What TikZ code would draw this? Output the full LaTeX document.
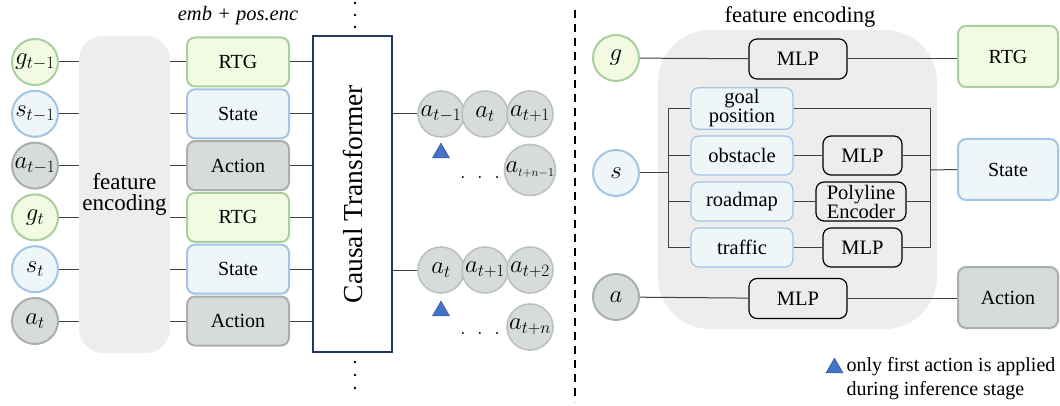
\documentclass[tikz,border=0pt]{standalone}
\usepackage{fontspec}
\setmainfont{Liberation Serif}
\usetikzlibrary{shapes.geometric}

\definecolor{rtgfill}{HTML}{F3FAE2}
\definecolor{rtgline}{HTML}{A8CF9C}
\definecolor{statefill}{HTML}{EEF6F8}
\definecolor{stateline}{HTML}{A2C4E6}
\definecolor{actfill}{HTML}{D6DDD9}
\definecolor{actline}{HTML}{ADADAD}
\definecolor{encfill}{HTML}{EDEDED}
\definecolor{trline}{HTML}{1F3864}
\definecolor{trifill}{HTML}{4472C4}

\tikzset{
  link/.style={draw=black!75, line width=1pt},
  tok/.style={circle, line width=2pt, minimum size=46pt, inner sep=0pt, font=\fontsize{24}{26}\selectfont},
  gtok/.style={tok, draw=rtgline, fill=rtgfill},
  stok/.style={tok, draw=stateline, fill=statefill},
  atok/.style={tok, draw=actline, fill=actfill},
  outtok/.style={circle, draw=black!25, fill=actfill, line width=1.6pt, minimum size=46pt, inner sep=0pt, font=\fontsize{23}{26}\selectfont},
  emb/.style={rounded corners=8pt, line width=2pt, minimum width=102pt, minimum height=49pt, font=\fontsize{20}{22}\selectfont},
  rtgbox/.style={emb, draw=rtgline, fill=rtgfill},
  statebox/.style={emb, draw=stateline, fill=statefill},
  actbox/.style={emb, draw=actline, fill=actfill},
  mlpbox/.style={draw=black, fill=encfill, rounded corners=8pt, line width=1.2pt, minimum width=98pt, minimum height=40pt, inner sep=2pt, align=center, font=\fontsize{20.5}{19}\selectfont},
  subbox/.style={draw=stateline, fill=statefill, rounded corners=8pt, line width=1.2pt, minimum width=102pt, minimum height=39pt, inner sep=2pt, align=center, font=\fontsize{20.5}{19}\selectfont},
  applied/.style={regular polygon, regular polygon sides=3, fill=trifill, draw=trifill!80!black, line width=0.6pt, minimum size=19.6pt, inner sep=0pt},
}

\begin{document}
\begin{tikzpicture}[x=1pt, y=-1pt]
  \useasboundingbox (0,0) rectangle (1060,406);

  % left: tokens of two time steps
  \node[gtok] (g1) at (35,62) {$g_{t-1}$};
  \node[stok] (s1) at (35,113.8) {$s_{t-1}$};
  \node[atok] (a1) at (35,165.6) {$a_{t-1}$};
  \node[gtok] (g2) at (35,217.4) {$g_t$};
  \node[stok] (s2) at (35,269.2) {$s_t$};
  \node[atok] (a2) at (35,321) {$a_t$};

  \node[fill=encfill, rounded corners=24pt, minimum width=79pt, minimum height=317pt, align=center,
        font=\fontsize{23}{21}\selectfont] (fenc) at (124.5,194.5) {feature\\encoding};

  \node[font=\fontsize{20.5}{22}\selectfont\itshape] (embtitle) at (238,16) {emb + pos.enc};
  \node[rtgbox] (r1) at (238,62) {RTG};
  \node[statebox] (e1) at (238,113.8) {State};
  \node[actbox] (c1) at (238,165.6) {Action};
  \node[rtgbox] (r2) at (238,217.4) {RTG};
  \node[statebox] (e2) at (238,269.2) {State};
  \node[actbox] (c2) at (238,321) {Action};

  \node[draw=trline, line width=2pt, minimum width=79pt, minimum height=316pt] (ct) at (352.5,194) {};
  \node[rotate=90, font=\fontsize{27.5}{30}\selectfont] (ctlabel) at (ct.center) {Causal Transformer};

  \draw[link] (g1) -- (g1 -| fenc.west);  \draw[link] (fenc.east |- r1) -- (r1);  \draw[link] (r1) -- (r1 -| ct.west);
  \draw[link] (s1) -- (s1 -| fenc.west);  \draw[link] (fenc.east |- e1) -- (e1);  \draw[link] (e1) -- (e1 -| ct.west);
  \draw[link] (a1) -- (a1 -| fenc.west);  \draw[link] (fenc.east |- c1) -- (c1);  \draw[link] (c1) -- (c1 -| ct.west);
  \draw[link] (g2) -- (g2 -| fenc.west);  \draw[link] (fenc.east |- r2) -- (r2);  \draw[link] (r2) -- (r2 -| ct.west);
  \draw[link] (s2) -- (s2 -| fenc.west);  \draw[link] (fenc.east |- e2) -- (e2);  \draw[link] (e2) -- (e2 -| ct.west);
  \draw[link] (a2) -- (a2 -| fenc.west);  \draw[link] (fenc.east |- c2) -- (c2);  \draw[link] (c2) -- (c2 -| ct.west);

  % vertical dots above and below the transformer
  \fill (355,3) circle (1.4pt) (355,15) circle (1.4pt) (355,27) circle (1.4pt);
  \fill (355,362) circle (1.4pt) (355,375) circle (1.4pt) (355,388) circle (1.4pt);

  % predicted actions
  \node[outtok] (o1) at (441,114) {$a_{t-1}$};
  \node[outtok] (o2) at (485,114) {$a_t$};
  \node[outtok] (o3) at (530,114) {$a_{t+1}$};
  \node[outtok] (o4) at (530,170) {$a_{\scriptscriptstyle t+n-1}$};
  \node[font=\fontsize{22}{26}\selectfont] (od1) at (480,177) {$.\;\;.\;\;.$};
  \node[applied] (tri1) at (441,153) {};

  \node[outtok] (p1) at (441,270) {$a_t$};
  \node[outtok] (p2) at (485,270) {$a_{t+1}$};
  \node[outtok] (p3) at (530,270) {$a_{t+2}$};
  \node[outtok] (p4) at (530,327) {$a_{t+n}$};
  \node[font=\fontsize{22}{26}\selectfont] (od2) at (480,333) {$.\;\;.\;\;.$};
  \node[applied] (tri2) at (441,311) {};

  \draw[link] (ct.east |- o1) -- (o1);
  \draw[link] (ct.east |- p1) -- (p1);

  % separator
  \draw[line width=2pt, dash pattern=on 8pt off 6pt] (575,10) -- (575,402);

  % right: feature encoding detail
  \node[fill=encfill, rounded corners=52pt, minimum width=279pt, minimum height=299pt] (fbg) at (797.5,179.5) {};
  \node[font=\fontsize{22.5}{24}\selectfont] (fetitle) at (800,17) {feature encoding};

  \node[gtok] (g) at (616,58) {$g$};
  \node[stok] (s) at (616,173) {$s$};
  \node[atok] (a) at (616,297) {$a$};

  \node[mlpbox] (mg) at (798,59) {MLP};
  \node[mlpbox] (ma) at (798,298.5) {MLP};
  \node[rtgbox, minimum width=100pt, minimum height=61pt] (rr) at (1008,56.5) {RTG};
  \node[statebox, minimum width=100pt, minimum height=61pt] (sr) at (1008,169.5) {State};
  \node[actbox, minimum width=100pt, minimum height=61pt] (ar) at (1008,297.5) {Action};

  \node[subbox] (sg) at (742,108.5) {goal\\position};
  \node[subbox] (so) at (742,155.5) {obstacle};
  \node[subbox] (sm) at (742,201.5) {roadmap};
  \node[subbox] (st) at (742,247.5) {traffic};
  \node[mlpbox, minimum width=79pt, minimum height=39pt] (mo) at (862.5,155.5) {MLP};
  \node[mlpbox, minimum width=90pt, minimum height=39pt] (pe) at (861,201.5) {Polyline\\Encoder};
  \node[mlpbox, minimum width=79pt, minimum height=39pt] (mt) at (862.5,247.5) {MLP};

  \coordinate (busl) at (668,173);
  \coordinate (busr) at (930,170);

  \draw[link] (g) -- (mg);  \draw[link] (mg) -- (mg -| rr.west);
  \draw[link] (a) -- (ma);  \draw[link] (ma) -- (ma -| ar.west);

  \draw[link] (s) -- (busl);
  \draw[link] (busl |- sg) -- (busl |- st);
  \draw[link] (busl |- sg) -- (sg.west);
  \draw[link] (busl |- so) -- (so.west);
  \draw[link] (busl |- sm) -- (sm.west);
  \draw[link] (busl |- st) -- (st.west);
  \draw[link] (so) -- (mo);  \draw[link] (sm) -- (pe);  \draw[link] (st) -- (mt);
  \draw[link] (sg.east) -- (busr |- sg) -- (busr |- mt) -- (mt.east);
  \draw[link] (mo.east) -- (busr |- mo);
  \draw[link] (pe.east) -- (busr |- pe);
  \draw[link] (busr) -- (sr.west);

  % legend
  \node[applied] (lt) at (834.5,368) {};
  \node[anchor=west, align=left, font=\fontsize{20}{24}\selectfont] (lg) at (843,379)
    {only first action is applied\\during inference stage};
\end{tikzpicture}
\end{document}
